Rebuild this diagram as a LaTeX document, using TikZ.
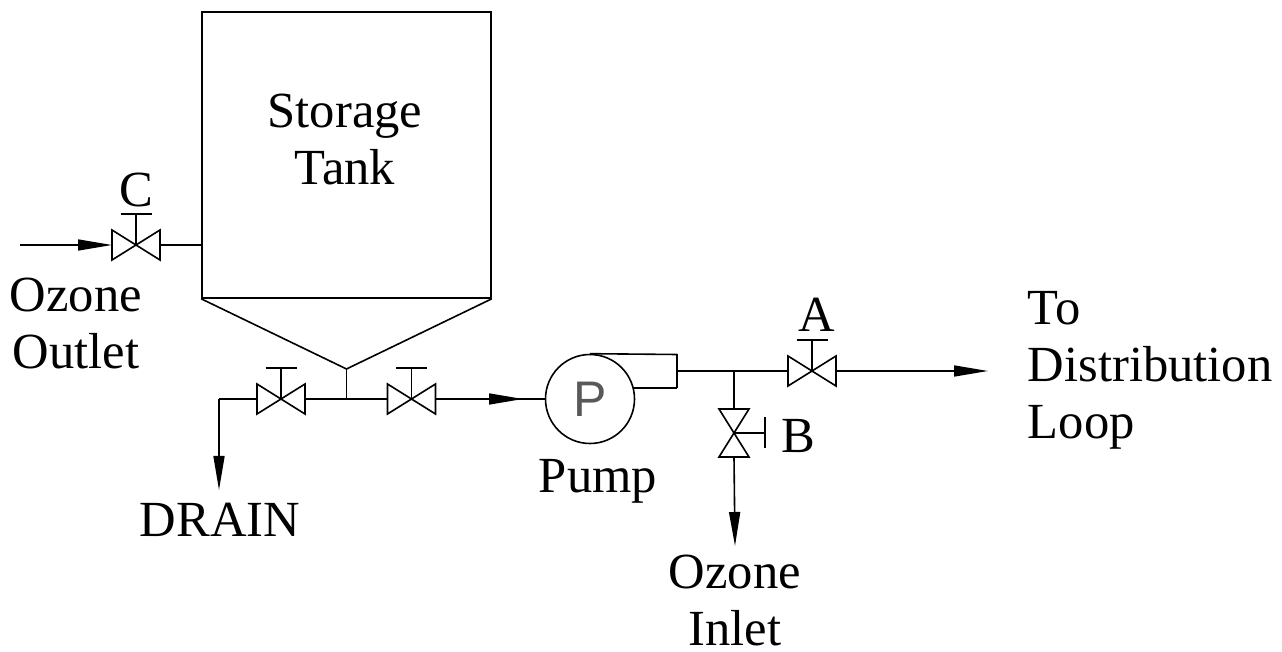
\documentclass[tikz,border=0pt]{standalone}
\usepackage{fontspec}
\setmainfont{Liberation Serif}
\newfontfamily\pumpfont{Liberation Sans}
\usetikzlibrary{arrows.meta}
\usetikzlibrary{calc}
\usetikzlibrary{positioning}
\tikzset{
  valve/.pic={
    \draw[fill=white,line join=miter] (-24,-15) -- (24,15) -- (24,-15) -- (-24,15) -- cycle;
    \draw (0,0) -- (0,-31);
    \draw (-15.5,-31) -- (15.5,-31);
    \coordinate (-l) at (-24,0);
    \coordinate (-r) at (24,0);
  },
  lbl/.style={font=\fontsize{25.3}{28.5}\selectfont, inner sep=0pt, align=center}
}
\begin{document}
\begin{tikzpicture}[x=0.5pt,y=-0.5pt,>={Triangle[length=17pt,width=5.5pt]},line width=0.8pt]
  \useasboundingbox (0,0) rectangle (1282,652);
  \node[draw,minimum width=144.5pt,minimum height=143pt,inner sep=0pt] (Tank) at (346.5,155) {};
  \node[lbl] (TankLabel) at (345,139) {Storage\\Tank};
  \coordinate (Apex) at (346.5,369);
  \coordinate (Tee) at (346.5,399);
  \coordinate (CIn) at (20,245);
  \coordinate (DrainCorner) at (219,399);
  \coordinate (DrainEnd) at (219,490);

  \pic (VC) at (136,245) {valve};
  \pic (VD) at (281,399) {valve};
  \pic (VP) at (411.5,399) {valve};
  \pic (VA) at (812,371) {valve};
  \pic[rotate=-90] (VB) at (734,433) {valve};

  \node[draw,circle,minimum size=44.5pt,inner sep=0pt,font=\pumpfont\fontsize{25}{25}\selectfont,text=black!65] (Pump) at (590,399) {P};
  \coordinate (PumpIn) at (523,399);
  \coordinate (VoluteTop) at (677,354.5);
  \coordinate (VoluteLow) at (677,388);
  \coordinate (VoluteIn) at (633,388);
  \coordinate (Discharge) at (677,371);
  \coordinate (TeeB) at (734,371);
  \coordinate (AEnd) at (988,371);
  \coordinate (BEnd) at (735,546);

  \node[lbl] (CLabel) at (136,190) {C};
  \node[lbl] (ALabel) at (817,315) {A};
  \node[lbl] (BLabel) at (798,436) {B};
  \node[lbl] (OutletLabel) at (76,323) {Ozone\\Outlet};
  \node[lbl] (DrainLabel) at (220,520) {DRAIN};
  \node[lbl] (PumpLabel) [below=7pt of Pump,xshift=4pt] {Pump};
  \node[lbl] (InletLabel) at (735,600) {Ozone\\Inlet};
  \node[lbl,align=left,anchor=west] (LoopLabel) at (1027,370) {To\\Distribution\\Loop};

  \path[->]
  (CIn) edge (VC-l)
  (DrainCorner) edge (DrainEnd)
  (VP-r) edge (PumpIn)
  (VA-r) edge (AEnd)
  (VB-r) edge (BEnd);
  \path
  (VP-r) edge (Pump.west)
  (VC-r) edge (VC-r -| Tank.west)
  (Tank.south west) edge (Apex)
  (Tank.south east) edge (Apex)
  (Apex) edge (Tee)
  (VD-l) edge (DrainCorner)
  (VD-r) edge (VP-l)
  (Pump.north) edge (VoluteTop)
  (VoluteTop) edge (VoluteLow)
  (VoluteLow) edge (VoluteIn)
  (Discharge) edge (VA-l)
  (TeeB) edge (VB-l);
\end{tikzpicture}
\end{document}
